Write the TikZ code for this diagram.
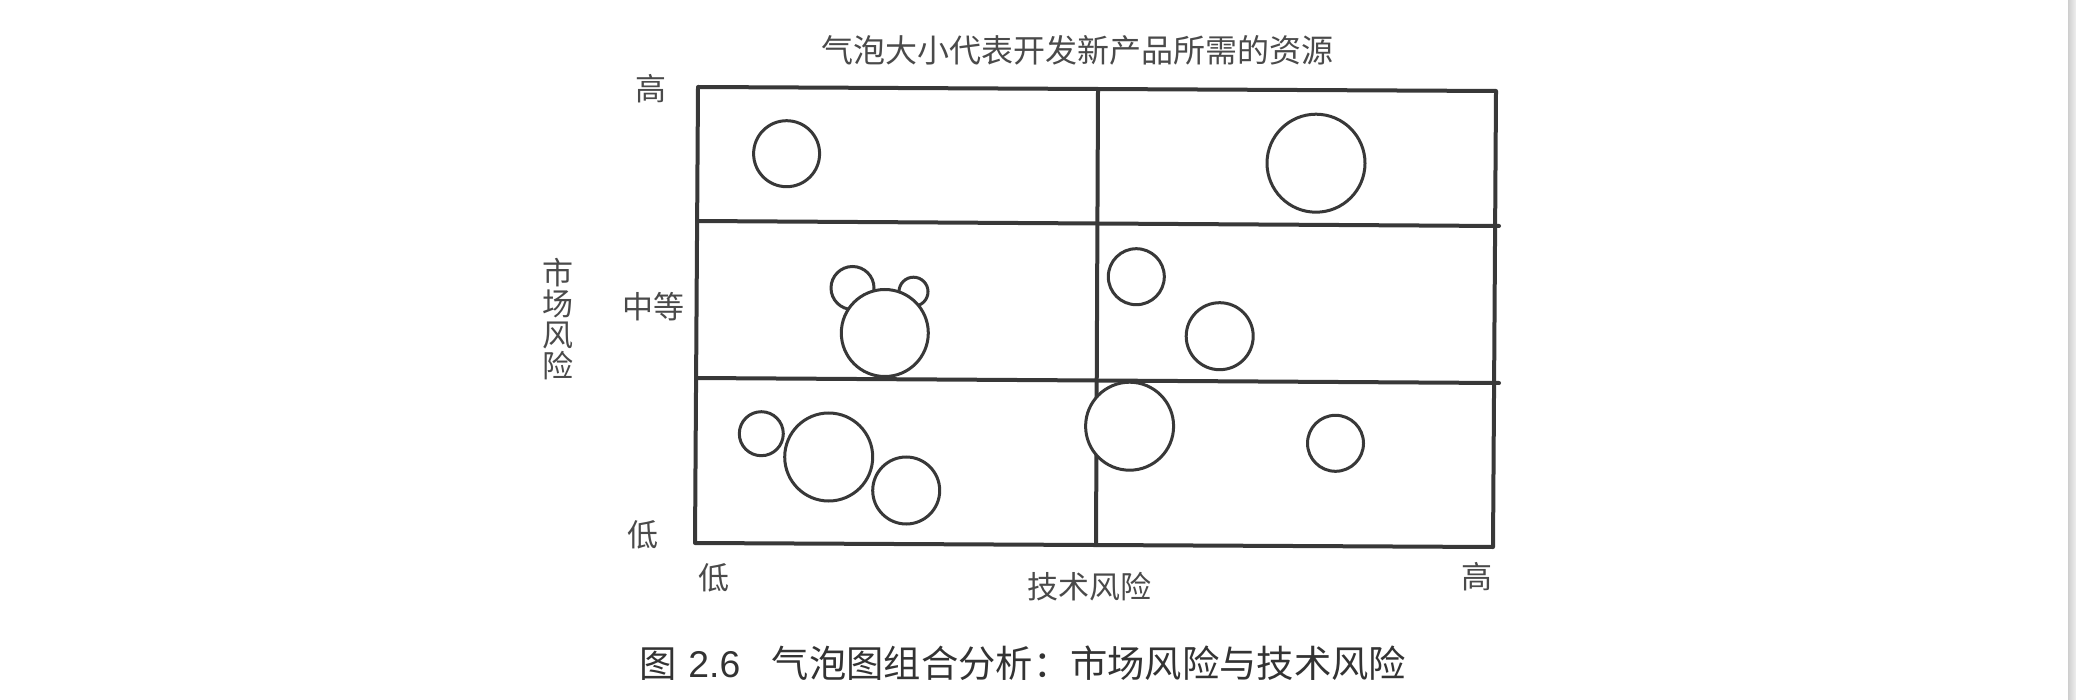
\documentclass[tikz,border=0pt]{standalone}
\usepackage{fontspec}
\newfontfamily\cjk{Noto Sans CJK SC}
\newfontfamily\latincap{Liberation Sans}
\definecolor{linec}{HTML}{383838}
\definecolor{textc}{HTML}{4A4A4A}
\definecolor{capc}{HTML}{333333}
\begin{document}
\begin{tikzpicture}[x=1pt,y=-1pt,
  frameline/.style={draw=linec, line width=4pt, line cap=round, line join=round},
  bubble/.style={circle, draw=linec, fill=white, line width=3pt, inner sep=0pt, minimum size=#1},
  lbl/.style={text=textc, inner sep=0pt, font=\cjk\fontsize{31}{31}\selectfont},
  ttl/.style={text=textc, inner sep=0pt, font=\cjk\fontsize{32}{32}\selectfont},
  captext/.style={text=capc, inner sep=0pt, font=\cjk\fontsize{37.3}{37}\selectfont}]
\useasboundingbox (0,0) rectangle (2076,700);
\fill[white] (0,0) rectangle (2076,700);
\shade[left color=gray!38, right color=gray!12] (2068,0) rectangle (2076,700);
% frame
\coordinate (tl) at (698,87);
\coordinate (tr) at (1496,91);
\coordinate (bl) at (695,543);
\coordinate (br) at (1493,547);
\coordinate (mt) at (1098,89);
\coordinate (mb) at (1096,545);
\coordinate (h1l) at (697,221);
\coordinate (h1r) at (1499,226);
\coordinate (h2l) at (696,378);
\coordinate (h2r) at (1499,383);
\draw[frameline] (tl) -- (tr) -- (br) -- (bl) -- cycle;
\draw[frameline] (mt) -- (mb);
\draw[frameline] (h1l) -- (h1r);
\draw[frameline] (h2l) -- (h2r);
% bubbles
\node[bubble=66pt] (b1) at (786.6,153.7) {};
\node[bubble=98pt] (b2) at (1316,163.2) {};
\node[bubble=43pt] (b3) at (852.5,288) {};
\node[bubble=29pt] (b4) at (913.5,291.7) {};
\node[bubble=87pt] (b5) at (884.8,333) {};
\node[bubble=56pt] (b6) at (1136.3,276.7) {};
\node[bubble=67pt] (b7) at (1219.7,336.2) {};
\node[bubble=44pt] (b8) at (761.3,433.7) {};
\node[bubble=88pt] (b9) at (828.7,457) {};
\node[bubble=67pt] (b10) at (906.2,490.5) {};
\node[bubble=88pt] (b11) at (1129.6,426.2) {};
\node[bubble=56pt] (b12) at (1335.5,443.3) {};
% texts
\node[ttl] (title) at (1077,50) {气泡大小代表开发新产品所需的资源};
\node[lbl] (yhigh) at (651,89) {高};
\node[lbl] (ymid) at (653,307) {中等};
\node[lbl] (ylow) at (643,535) {低};
\node[lbl, align=center] (ylabel) at (558,319) {市\\场\\风\\险};
\node[lbl] (xlow) at (714,578) {低};
\node[lbl] (xlabel) at (1089,587) {技术风险};
\node[lbl] (xhigh) at (1477,577) {高};
\node[captext] (caption) at (1023,663) {图\hspace{0.3em}{\latincap 2.6}\hspace{0.85em}气泡图组合分析：市场风险与技术风险};
\end{tikzpicture}
\end{document}
